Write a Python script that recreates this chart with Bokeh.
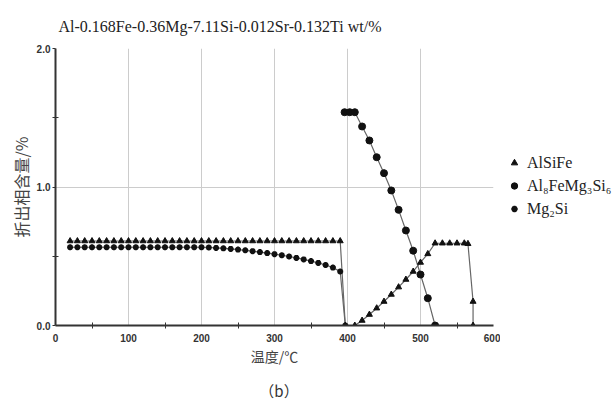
from bokeh.plotting import figure
from bokeh.layouts import row, column
from bokeh.models import Range1d, Legend, LegendItem, FixedTicker, PrintfTickFormatter, Div
from bokeh.embed import file_html
from bokeh.resources import INLINE

title_text = "Al-0.168Fe-0.36Mg-7.11Si-0.012Sr-0.132Ti wt/%"
x_label = "温度/℃"
y_label = "折出相含量/%"
sub_label = "（b）"
series_names = ["AlSiFe", "Al₈FeMg₃Si₆", "Mg₂Si"]

x_ticks = [0, 100, 200, 300, 400, 500, 600]
y_ticks = [0.0, 1.0, 2.0]

# AlSiFe
t_alsife = [20, 30, 40, 50, 60, 70, 80, 90, 100, 110, 120, 130, 140, 150, 160, 170, 180, 190,
            200, 210, 220, 230, 240, 250, 260, 270, 280, 290, 300, 310, 320, 330, 340, 350,
            360, 370, 380, 390, 397, 410, 420, 430, 440, 450, 460, 470, 480, 490, 500, 510,
            520, 530, 540, 550, 560, 565, 572, 572]
v_alsife = [0.61, 0.61, 0.61, 0.61, 0.61, 0.61, 0.61, 0.61, 0.61, 0.61, 0.61, 0.61, 0.61, 0.61,
            0.61, 0.61, 0.61, 0.61, 0.61, 0.61, 0.61, 0.61, 0.61, 0.61, 0.61, 0.61, 0.61, 0.61,
            0.61, 0.61, 0.61, 0.61, 0.61, 0.61, 0.61, 0.61, 0.61, 0.61, 0.0, 0.0, 0.036, 0.079,
            0.125, 0.173, 0.224, 0.277, 0.332, 0.39, 0.455, 0.517, 0.594, 0.594, 0.594, 0.594,
            0.594, 0.59, 0.173, 0.0]

# Al8FeMg3Si6
t_al8 = [396, 403, 410, 420, 430, 440, 450, 460, 470, 480, 490, 500, 510, 520]
v_al8 = [1.54, 1.54, 1.54, 1.437, 1.336, 1.215, 1.10, 0.975, 0.835, 0.686, 0.54, 0.368, 0.197, 0.0]

# Mg2Si
t_mg2si = [20, 30, 40, 50, 60, 70, 80, 90, 100, 110, 120, 130, 140, 150, 160, 170, 180, 190,
           200, 210, 220, 230, 240, 250, 260, 270, 280, 290, 300, 310, 320, 330, 340, 350,
           360, 370, 380, 390, 397]
v_mg2si = [0.565, 0.565, 0.565, 0.565, 0.565, 0.565, 0.565, 0.565, 0.565, 0.565, 0.565, 0.565,
           0.565, 0.565, 0.565, 0.565, 0.565, 0.565, 0.565, 0.563, 0.560, 0.557, 0.553, 0.548,
           0.543, 0.537, 0.530, 0.523, 0.515, 0.507, 0.498, 0.488, 0.477, 0.465, 0.452, 0.437,
           0.418, 0.39, 0.0]

p = figure(width=500, height=370, output_backend="svg", toolbar_location=None,
           x_range=Range1d(0, 600), y_range=Range1d(0, 2.0),
           min_border_left=55, min_border_right=7, min_border_top=48, min_border_bottom=45)
p.outline_line_color = None
p.background_fill_color = "white"

# title
p.title.text = title_text
p.title.text_font = "Liberation Serif"
p.title.text_font_size = "16px"
p.title.text_font_style = "normal"
p.title.text_color = "#222222"
p.title.align = "left"
p.title.offset = 3
p.title.standoff = 28

# axes
for ax in (p.xaxis[0], p.yaxis[0]):
    ax.axis_line_width = 2
    ax.axis_line_color = "#333333"
    ax.major_tick_line_color = "#333333"
    ax.minor_tick_line_color = "#333333"
    ax.major_label_text_font = "Liberation Sans"
    ax.major_label_text_font_style = "bold"
    ax.major_label_text_font_size = "10px"
    ax.major_label_text_color = "#333333"
    ax.axis_label_text_font = "Noto Sans CJK SC"
    ax.axis_label_text_font_style = "normal"
    ax.axis_label_text_color = "#444444"
    ax.minor_tick_in = 3
    ax.minor_tick_out = 3

p.xaxis.ticker = FixedTicker(ticks=x_ticks, minor_ticks=[50, 150, 250, 350, 450, 550])
p.xaxis.major_tick_in = 0
p.xaxis.major_tick_out = 0
p.xaxis.major_label_standoff = 5
p.xaxis.axis_label = x_label
p.xaxis.axis_label_text_font_size = "14px"
p.xaxis.axis_label_standoff = 1

p.yaxis.ticker = FixedTicker(ticks=y_ticks, minor_ticks=[0.5, 1.5])
p.yaxis.formatter = PrintfTickFormatter(format="%.1f")
p.yaxis.major_tick_in = 0
p.yaxis.major_tick_out = 3
p.yaxis.major_label_standoff = 2
p.yaxis.axis_label = y_label
p.yaxis.axis_label_text_font_size = "16px"
p.yaxis.axis_label_standoff = 1

p.xgrid.ticker = FixedTicker(ticks=[100, 200, 300, 400, 500])
p.ygrid.ticker = FixedTicker(ticks=[1.0, 2.0])
p.xgrid.grid_line_color = "#cccccc"
p.ygrid.grid_line_color = "#cccccc"

line_col = "#666666"
mk_col = "#111111"

p.line(t_alsife, v_alsife, line_color=line_col, line_width=1.2)
p.line(t_al8, v_al8, line_color=line_col, line_width=1.2)
p.line(t_mg2si, v_mg2si, line_color=line_col, line_width=1.2)

p.scatter(t_alsife, v_alsife, marker="triangle", size=6, fill_color=mk_col, line_color=mk_col)
p.scatter(t_al8, v_al8, marker="circle", size=7, fill_color=mk_col, line_color=mk_col)
p.scatter(t_mg2si, v_mg2si, marker="asterisk", size=6, line_color=mk_col, line_width=2)

# legend panel (separate figure to the right of the plot); its renderers reuse the
# series data, which lies outside this panel's ranges, so only the legend shows
lg = figure(width=113, height=370, output_backend="svg", toolbar_location=None,
            x_range=Range1d(0, 1), y_range=Range1d(0, 1),
            x_axis_type=None, y_axis_type=None,
            min_border_left=6, min_border_top=48, min_border_right=0, min_border_bottom=45)
lg.outline_line_color = None
lg.xgrid.visible = False
lg.ygrid.visible = False
g1 = lg.scatter(t_alsife, v_alsife, marker="triangle", size=8, fill_color=mk_col, line_color=mk_col)
g2 = lg.scatter(t_al8, v_al8, marker="circle", size=10, fill_color=mk_col, line_color=mk_col)
g3 = lg.scatter(t_mg2si, v_mg2si, marker="asterisk", size=8, line_color=mk_col, line_width=2)

legend = Legend(items=[LegendItem(label=series_names[0], renderers=[g1]),
                       LegendItem(label=series_names[1], renderers=[g2]),
                       LegendItem(label=series_names[2], renderers=[g3])],
                location=(0, 105), orientation="vertical",
                glyph_width=16, glyph_height=23, spacing=0, padding=0, margin=0,
                label_standoff=5, label_text_font="Liberation Serif",
                label_text_font_size="16px", label_text_color="#222222",
                border_line_color=None, background_fill_alpha=0)
lg.add_layout(legend, "center")

caption = Div(text=sub_label, width=548, height=34,
              styles={"text-align": "center", "font-family": "Noto Sans CJK SC",
                      "font-size": "15px", "color": "#333333",
                      "padding-top": "7px", "line-height": "18px"})

layout = column(row(p, lg, spacing=0), caption, spacing=0)
open("out.html", "w").write(file_html(layout, INLINE))
